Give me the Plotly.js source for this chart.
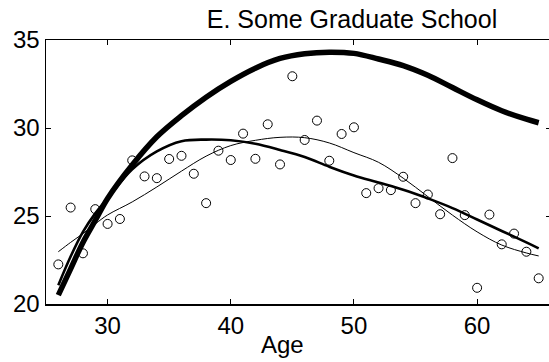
<!DOCTYPE html>
<html><head><meta charset="utf-8">
<script src="https://cdn.plot.ly/plotly-3.0.1.min.js"></script>
<style>html,body{margin:0;padding:0;overflow:hidden;background:#fff}</style>
</head><body><div id="chart" style="width:552px;height:362px"></div>
<script>
// Observed points: age 26..65
const ages = [26,27,28,29,30,31,32,33,34,35,36,37,38,39,40,41,42,43,44,45,46,47,48,49,50,51,52,53,54,55,56,57,58,59,60,61,62,63,64,65];
const observed = [22.25,25.48,22.88,25.39,24.55,24.83,28.16,27.25,27.15,28.24,28.42,27.40,25.73,28.71,28.18,29.68,28.25,30.21,27.93,32.94,29.32,30.42,28.14,29.66,30.04,26.30,26.58,26.47,27.23,25.73,26.22,25.10,28.29,25.05,20.92,25.08,23.39,24.00,22.97,21.46];

// Fitted curves
const fitAges = [26,27,28,29,30,32,34,36,38,40,42,44,46,48,50,52,54,56,58,60,62,64,65];
const fitThick = [20.5,22.0,23.5,24.75,26.0,27.9,29.5,30.7,31.75,32.65,33.4,33.95,34.22,34.31,34.24,33.92,33.55,33.0,32.3,31.6,30.98,30.5,30.3];
const fitMedium = [21.07,22.7,24.1,25.15,26.0,27.65,28.67,29.25,29.34,29.3,29.1,28.75,28.35,27.8,27.3,26.9,26.49,26.0,25.45,24.8,24.15,23.5,23.16];
const fitThin = [22.97,23.5,24.0,24.55,25.06,25.8,26.65,27.55,28.4,29.0,29.3,29.47,29.45,29.15,28.6,28.05,27.15,26.1,25.05,24.1,23.35,22.9,22.73];

const xTicks = [30,40,50,60];
const yTicks = [20,25,30,35];
const titleText = 'E. Some Graduate School';
const xTitleText = 'Age';

const FONT = 'Liberation Sans, Arial, Helvetica, sans-serif';

const traces = [
  {x: ages, y: observed, type: 'scatter', mode: 'markers', name: 'observed',
   marker: {symbol: 'circle-open', size: 9, color: '#000', line: {width: 1, color: '#000'}}},
  {x: fitAges, y: fitThin, type: 'scatter', mode: 'lines', name: 'thin',
   line: {color: '#000', width: 1, shape: 'spline', smoothing: 1}},
  {x: fitAges, y: fitMedium, type: 'scatter', mode: 'lines', name: 'medium',
   line: {color: '#000', width: 2.6, shape: 'spline', smoothing: 1}},
  {x: fitAges, y: fitThick, type: 'scatter', mode: 'lines', name: 'thick',
   line: {color: '#000', width: 5.5, shape: 'spline', smoothing: 1}}
];

const layout = {
  width: 552, height: 362,
  margin: {l: 46, r: 1, t: 40, b: 58},
  paper_bgcolor: '#fff', plot_bgcolor: '#fff',
  showlegend: false,
  font: {family: FONT, color: '#000', size: 24},
  title: {text: titleText, font: {family: FONT, size: 25, color: '#000'},
          xref: 'container', x: 352/552, xanchor: 'center',
          yref: 'container', y: 1 - 19.5/362, yanchor: 'middle'},
  xaxis: {range: [25, 66], tickvals: xTicks, ticktext: xTicks.map(String),
          ticks: 'inside', ticklen: 5, tickwidth: 1, tickcolor: '#000',
          showline: true, linecolor: '#000', linewidth: 1.5, mirror: 'ticks',
          showgrid: false, zeroline: false,
          tickfont: {family: FONT, size: 24, color: '#000'}},
  yaxis: {range: [20, 35], tickvals: yTicks, ticktext: yTicks.map(String),
          ticks: 'inside', ticklen: 5, tickwidth: 1, tickcolor: '#000',
          showline: true, linecolor: '#000', linewidth: 1.5, mirror: 'ticks',
          showgrid: false, zeroline: false,
          tickfont: {family: FONT, size: 24, color: '#000'}},
  annotations: [
    {text: xTitleText, xref: 'paper', yref: 'paper', x: (282 - 46) / 505, y: -0.155,
     xanchor: 'center', yanchor: 'middle', showarrow: false,
     font: {family: FONT, size: 24, color: '#000'}}
  ]
};

Plotly.newPlot('chart', traces, layout, {displayModeBar: false, staticPlot: true});
</script></body></html>
